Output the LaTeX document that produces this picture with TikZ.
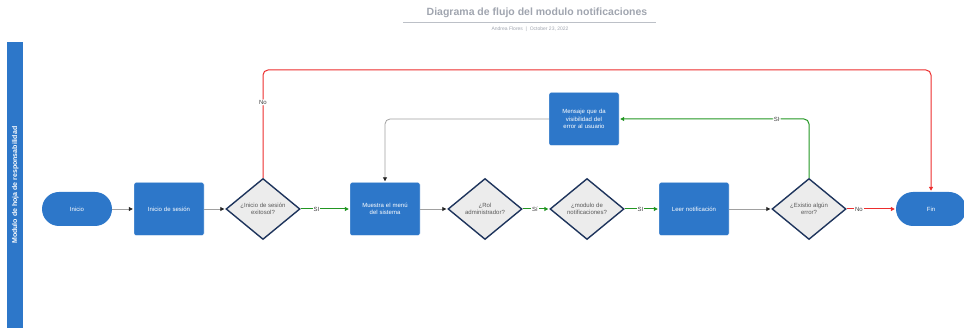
\documentclass[tikz,border=0pt]{standalone}
\usepackage{fontspec}
\setmainfont{Liberation Sans}
\usetikzlibrary{shapes.geometric, arrows.meta, positioning}
\definecolor{boxblue}{RGB}{45,119,201}
\definecolor{diamondgray}{RGB}{236,236,236}
\definecolor{diamondedge}{RGB}{30,52,92}
\definecolor{yesgreen}{RGB}{34,150,34}
\definecolor{nored}{RGB}{236,45,45}
\definecolor{titlegray}{RGB}{160,165,175}
\definecolor{linegray}{RGB}{160,160,160}

\begin{document}
\begin{tikzpicture}[
    x=1pt, y=-1pt,
    stepbox/.style={draw=white, fill=boxblue, rounded corners=2pt, minimum width=70pt, minimum height=53pt, text width=62pt, align=center, text=white, font=\fontsize{6}{7.5}\selectfont},
    terminal/.style={fill=boxblue, rounded corners=17pt, minimum width=70pt, minimum height=34pt, text=white, font=\fontsize{6}{7.5}\selectfont},
    decision/.style={diamond, draw=diamondedge, line width=1.4pt, fill=diamondgray, minimum width=74pt, minimum height=61pt, inner sep=0pt, align=center, text=black!65, font=\fontsize{6}{7.5}\selectfont},
    flowline/.style={draw=linegray, line width=0.8pt, -{Triangle[length=4pt, width=4pt, color=black!85]}, shorten >=1pt},
    yesline/.style={draw=yesgreen, line width=1pt, -{Triangle[length=4pt, width=4pt, color=yesgreen]}, shorten >=1pt},
    noline/.style={draw=nored, line width=1pt, -{Triangle[length=4pt, width=4pt, color=nored]}, shorten >=1pt},
    edgelabel/.style={fill=white, inner sep=1pt, text=black!75, font=\fontsize{6}{7}\selectfont}
]
    \useasboundingbox (0,0) rectangle (964,328);

    % Title
    \node[font=\fontsize{10.5}{12}\selectfont\bfseries, text=titlegray] (title) at (537,13) {Diagrama de flujo del modulo notificaciones};
    \draw[titlegray!70, line width=0.8pt] (403,22) -- (656,22);
    \node[font=\fontsize{5}{6}\selectfont, text=titlegray] (subtitle) at (530,29) {Andrea Flores \ | \ October 23, 2022};

    % Swimlane
    \node[fill=boxblue, minimum width=16pt, minimum height=286pt, inner sep=0pt, anchor=north west] (lane) at (7,42) {};
    \node[rotate=90, text=white, font=\fontsize{7}{8}\selectfont\bfseries] (lanetext) at (lane.center) {Modulo de hoja de responsabilidad};

    % Main flow
    \node[terminal] (inicio) at (77,209) {Inicio};
    \node[stepbox] (sesion) at (169,209) {Inicio de sesión};
    \node[decision] (exito) at (263,209) {¿Inicio de sesión\\exitosol?};
    \node[stepbox] (menu) at (385,209) {Muestra el menú\\del sistema};
    \node[decision] (rol) at (485,209) {¿Rol\\administrador?};
    \node[decision] (modulo) at (587,209) {¿modulo de\\notificaciones?};
    \node[stepbox] (leer) at (694,209) {Leer notificación};
    \node[decision] (error) at (809,209) {¿Existio algún\\error?};
    \node[terminal] (fin) at (931,209) {Fin};
    \node[stepbox] (mensaje) at (584,119) {Mensaje que da\\visibilidad del\\error al usuario};

    \coordinate (topline) at (0,70);

    % Connectors
    \draw[flowline] (inicio) -- (sesion);
    \draw[flowline] (sesion) -- (exito);
    \draw[yesline] (exito) -- node[edgelabel, pos=0.32] {SI} (menu);
    \draw[flowline] (menu) -- (rol);
    \draw[yesline] (rol) -- node[edgelabel, pos=0.46] {Sí} (modulo);
    \draw[yesline] (modulo) -- node[edgelabel, pos=0.46] {SI} (leer);
    \draw[flowline] (leer) -- (error);
    \draw[noline] (error) -- node[edgelabel, pos=0.25] {No} (fin);

    % Loops
    \draw[noline, rounded corners=5pt] (exito.north) -- node[edgelabel, pos=0.7] {No} (exito.north |- topline) -| (fin.north);
    \draw[yesline, rounded corners=5pt] (error.north) -- (error.north |- mensaje.east) -- node[edgelabel, pos=0.17] {SI} (mensaje.east);
    \draw[flowline, rounded corners=5pt] (mensaje.west) -| (menu.north);
\end{tikzpicture}
\end{document}
